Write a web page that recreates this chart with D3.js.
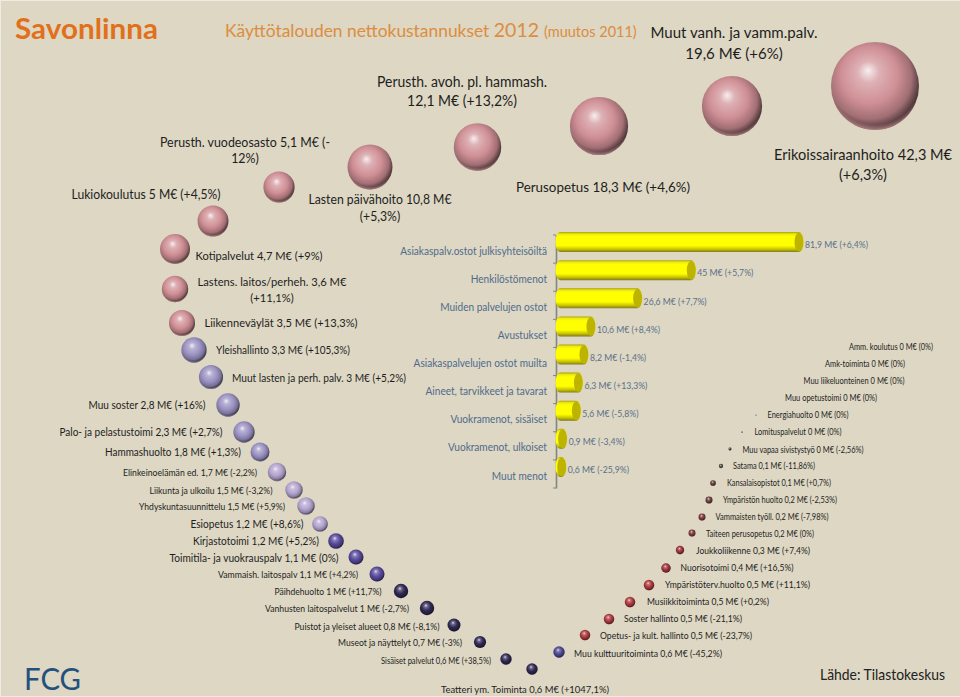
<!DOCTYPE html>
<html><head><meta charset="utf-8">
<script src="https://cdn.jsdelivr.net/npm/d3@7"></script>
<style>html,body{margin:0;padding:0;background:#eeece2;overflow:hidden}svg{display:block}text{font-family:Lato,"Open Sans",sans-serif}</style>
</head><body><div id="c"></div>
<script>
// ---------- bar data ----------
const barCategories = ["Asiakaspalv.ostot julkisyhteisöiltä","Henkilöstömenot","Muiden palvelujen ostot","Avustukset","Asiakaspalvelujen ostot muilta","Aineet, tarvikkeet ja tavarat","Vuokramenot, sisäiset","Vuokramenot, ulkoiset","Muut menot"];
const barValues = [81.9,45,26.6,10.6,8.2,6.3,5.6,0.9,0.6];
const barLabels = ["81,9 M€ (+6,4%)","45 M€ (+5,7%)","26,6 M€ (+7,7%)","10,6 M€ (+8,4%)","8,2 M€ (-1,4%)","6,3 M€ (+13,3%)","5,6 M€ (-5,8%)","0,9 M€ (-3,4%)","0,6 M€ (-25,9%)"];
// ---------- bubble data (x, y in chart units, y upwards) ----------
const bubbleNames = ["Erikoissairaanhoito 42,3 M€\n(+6,3%)","Muut vanh. ja vamm.palv.\n19,6 M€ (+6%)","Perusopetus 18,3 M€ (+4,6%)","Perusth. avoh. pl. hammash.\n12,1 M€ (+13,2%)","Lasten päivähoito 10,8 M€\n(+5,3%)","Perusth. vuodeosasto 5,1 M€ (-\n12%)","Lukiokoulutus 5 M€ (+4,5%)","Kotipalvelut 4,7 M€ (+9%)","Lastens. laitos/perheh. 3,6 M€\n(+11,1%)","Liikenneväylät 3,5 M€ (+13,3%)","Yleishallinto 3,3 M€ (+105,3%)","Muut lasten ja perh. palv. 3 M€ (+5,2%)","Muu soster 2,8 M€ (+16%)","Palo- ja pelastustoimi 2,3 M€ (+2,7%)","Hammashuolto 1,8 M€ (+1,3%)","Elinkeinoelämän  ed. 1,7 M€ (-2,2%)","Liikunta ja ulkoilu 1,5 M€ (-3,2%)","Yhdyskuntasuunnittelu 1,5 M€ (+5,9%)","Esiopetus 1,2 M€ (+8,6%)","Kirjastotoimi 1,2 M€ (+5,2%)","Toimitila- ja vuokrauspalv 1,1 M€ (0%)","Vammaish. laitospalv 1,1 M€ (+4,2%)","Päihdehuolto 1 M€ (+11,7%)","Vanhusten laitospalvelut 1 M€ (-2,7%)","Puistot ja yleiset alueet 0,8 M€ (-8,1%)","Museot ja näyttelyt 0,7 M€ (-3%)","Sisäiset palvelut 0,6 M€ (+38,5%)","Teatteri  ym. Toiminta 0,6 M€ (+1047,1%)","Muu kulttuuritoiminta 0,6 M€ (-45,2%)","Opetus- ja kult. hallinto 0,5 M€ (-23,7%)","Soster hallinto 0,5 M€ (-21,1%)","Musiikkitoiminta 0,5 M€ (+0,2%)","Ympäristöterv.huolto 0,5 M€ (+11,1%)","Nuorisotoimi 0,4 M€ (+16,5%)","Joukkoliikenne 0,3 M€ (+7,4%)","Taiteen perusopetus 0,2 M€ (0%)","Vammaisten työll. 0,2 M€ (-7,98%)","Ympäristön huolto 0,2 M€ (-2,53%)","Kansalaisopistot 0,1 M€ (+0,7%)","Satama 0,1 M€ (-11,86%)","Muu vapaa sivistystyö 0 M€ (-2,56%)","Lomituspalvelut 0 M€ (0%)","Energiahuolto 0 M€ (0%)","Muu opetustoimi 0 M€ (0%)","Muu liikeluonteinen 0 M€ (0%)","Amk-toiminta 0 M€ (0%)","Amm. koulutus 0 M€ (0%)"];
const bubbleValues = [42.3,19.6,18.3,12.1,10.8,5.1,5,4.7,3.6,3.5,3.3,3,2.8,2.3,1.8,1.7,1.5,1.5,1.2,1.2,1.1,1.1,1,1,0.8,0.7,0.6,0.6,0.6,0.5,0.5,0.5,0.5,0.4,0.3,0.2,0.2,0.2,0.12,0.06,0.02,0.005,0.001,0,0,0,0];
const bubbleX = [87.5,73.2,59.9,47.75,37,27.9,21.3,17.5,17.5,18.2,19.4,21.1,22.8,24.4,26,27.7,29.4,30.6,32,33.6,35.6,37.7,40.1,42.7,45.4,48,50.6,53.2,55.9,58.5,60.9,63,64.9,66.6,68,69.2,70.2,70.9,71.3,72.1,73,74.2,75.6,77.4,79.5,81.5,84];
const bubbleY = [61.1,59.1,57.1,55,53,51,47.6,44.8,40.8,37.4,34.7,32,29.2,26.5,24.5,22.5,20.7,19.1,17.3,15.6,14,12.3,10.6,8.9,7.2,5.5,3.8,2.8,4.5,6.2,7.8,9.5,11.2,12.9,14.7,16.4,18,19.7,21.4,23.1,24.8,26.5,28.2,29.9,31.6,33.3,35];
const sphereGroup = [0,0,0,0,0,0,0,0,0,0,1,1,1,1,1,2,2,2,2,3,3,3,4,4,4,4,4,4,5,6,6,6,6,7,7,8,8,9,10,11,12,13,14,14,14,14,14];
const groupColors = ["#cf8f95","#9b92c2","#b3a4cf","#57489a","#2f2852","#4d4791","#ab3a3e","#9c3338","#7f3a3d","#693f3f","#5a3f36","#4a4a40","#3a3a3a","#8f8f86","#bdb9a8"];

// ---------- layout of the free-standing texts ----------
const labelX = [863,734,603,462,380,245,146,259,272,281,283,319,147,141,173,190,211,212,247,256,254,288,328,337,367,400,436,525,648,676,683,708,737.5,737,753,760,772,780,779,774,803,798,808,831,854,865,891];
const labelY = [155,33,187,82,200,142,194,256,282,323,350,378,405,432,452,473,491,507,524,541,558,575,592,609,627,643,661,690,654,636,619,602,585,568,551,534,517,500,483,466,450,432,415,398,381,364,347];
const labelSize = [15.3,15.5,14,14.5,12.8,12.9,12.9,12,12,12,11,11,11,11,11,9.5,9.5,9.5,11,11,11,9.5,9.5,9.5,9.5,9.5,8.5,9.8,9.5,9.5,9.5,9.5,9.5,9.5,9.5,8.5,8.5,8.5,8.5,8.8,8.5,8.5,8.5,8.5,8.5,8.5,8.5];
const labelWidth = [178,167,174,170,143,170,149,127,149,153,134,174,117,163,136,134,123,146,113,126,169,140,107,144,145,124,110,168,148,152,118,122,145,113,114,108,113,114,104,82,121,87,81,92,101,80,84];
const squeezeBar = 0.93, squeezeAxis = 0.87;

const W=960,H=697;
const svg=d3.select("#c").append("svg").attr("width",W).attr("height",H);
const defs=svg.append("defs");
svg.append("rect").attr("x",1).attr("y",1).attr("width",W).attr("height",H-2).attr("fill","#ddd7c3");
function fit(sel,w){ sel.each(function(){ d3.select(this).attr("textLength",w).attr("lengthAdjust","spacingAndGlyphs"); }); return sel; }

// header
fit(svg.append("text").attr("x",15).attr("y",39).attr("font-size",29).attr("font-weight",700).attr("fill","#e2701a").text("Savonlinna"),143);
const t=svg.append("text").attr("x",225).attr("y",37).attr("fill","#dc8d3f");
t.append("tspan").attr("font-size",17.4).text("Käyttötalouden nettokustannukset ");
t.append("tspan").attr("font-size",19.5).text("2012 ");
t.append("tspan").attr("font-size",14.5).text("(muutos 2011)");

// bubbles
const px=d3.scaleLinear().domain([0,96]).range([0,W]);
const py=d3.scaleLinear().domain([0,69.7]).range([H,0]);
const pr=d3.scaleSqrt().domain([0,42.3]).range([0.5,44]);
groupColors.forEach((c,i)=>{
  const b=d3.color(c), g=defs.append("radialGradient").attr("id","s"+i).attr("cx",.45).attr("cy",.43).attr("r",.62).attr("fx",.42).attr("fy",.32);
  [[0,d3.interpolateRgb(c,"#fff")(.85)],[.2,d3.interpolateRgb(c,"#fff")(.3)],[.52,c],[.76,b.darker(.7)],[.92,b.darker(2.8)],[1,b.darker(3.4)]].forEach(s=>g.append("stop").attr("offset",s[0]).attr("stop-color",s[1]));
  const rim=defs.append("radialGradient").attr("id","r"+i).attr("cx",.5).attr("cy",.42).attr("r",.6);
  rim.append("stop").attr("offset",.86).attr("stop-color",c).attr("stop-opacity",0);
  rim.append("stop").attr("offset",1).attr("stop-color",d3.interpolateRgb(c,"#fff")(.2)).attr("stop-opacity",.95);
});
const bubbles=bubbleNames.map((n,i)=>({v:bubbleValues[i],x:bubbleX[i],y:bubbleY[i],g:sphereGroup[i]})).filter(d=>d.v>0);
const bs=svg.append("g").selectAll("g").data(bubbles).join("g");
bs.append("circle").attr("cx",d=>px(d.x)).attr("cy",d=>py(d.y)).attr("r",d=>pr(d.v)).attr("fill",d=>`url(#s${d.g})`);
bs.append("circle").attr("cx",d=>px(d.x)).attr("cy",d=>py(d.y)).attr("r",d=>pr(d.v)).attr("fill",d=>`url(#r${d.g})`);

// bubble labels
const lab=svg.append("g").attr("fill","#1e1e1e").attr("text-anchor","middle").selectAll("text").data(bubbleNames).join("text")
  .attr("font-size",(d,i)=>labelSize[i]);
lab.each(function(d,i){
  const el=d3.select(this), size=labelSize[i];
  let ratio=1;
  d.split("\n").forEach((line,k)=>{
    const ts=el.append("tspan").attr("x",labelX[i]).attr("y",labelY[i]+k*size*1.3).attr("dy",".35em").text(line);
    const natural=ts.node().getComputedTextLength();
    if(k===0) ratio=labelWidth[i]/natural;
    ts.attr("textLength",natural*ratio).attr("lengthAdjust","spacingAndGlyphs");
  });
});

// bar chart
const y=d3.scaleBand().domain(barCategories).range([235,488]);
const x=d3.scaleLinear().domain([0,81.9]).range([560,799]);
const bg=defs.append("linearGradient").attr("id","bar").attr("x1",0).attr("x2",0).attr("y1",0).attr("y2",1);
[[0,"#a8a400"],[.1,"#eeea10"],[.22,"#ffff00"],[.68,"#ffff00"],[.86,"#c8c200"],[1,"#7d7a20"]].forEach(s=>bg.append("stop").attr("offset",s[0]).attr("stop-color",s[1]));
const axis=d3.axisLeft(y).tickSize(0).tickPadding(9);
const ax=svg.append("g").attr("transform","translate(556,0)").call(axis);
ax.select(".domain").attr("stroke","#85857f").attr("stroke-width",1.6);
ax.selectAll("text").attr("font-size",11.6).attr("fill","#4f6b8c").attr("dy",".48em").style("font-family","Lato")
  .each(function(){ const n=this.getComputedTextLength(); d3.select(this).attr("textLength",n*squeezeAxis).attr("lengthAdjust","spacingAndGlyphs"); });
ax.selectAll(".edge").data([...barCategories.map(c=>y(c)),y.range()[1]]).join("line").attr("class","edge")
  .attr("x1",-3).attr("x2",0).attr("y1",d=>d).attr("y2",d=>d).attr("stroke","#85857f").attr("stroke-width",1);
const barH=20, cap=4.5;
const bars=svg.append("g").selectAll("g").data(barCategories).join("g").attr("transform",c=>`translate(0,${y(c)+y.bandwidth()/2-7})`);
bars.append("path").attr("fill","url(#bar)").attr("d",(c,i)=>{
  const x0=x(0),x1=x(barValues[i]),h=barH/2;
  return `M${x0},${-h}L${x1},${-h}A${cap},${h} 0 0 1 ${x1},${h}L${x0},${h}A${cap},${h} 0 0 1 ${x0},${-h}Z`;
});
bars.append("ellipse").attr("cx",(c,i)=>x(barValues[i])).attr("rx",cap).attr("ry",barH/2-.5).attr("fill","#bdb400");
bars.append("text").attr("x",(c,i)=>x(barValues[i])+6).attr("y",3).attr("dy",".35em").attr("font-size",9.3).attr("fill","#5b7089").text((c,i)=>barLabels[i])
  .each(function(){ const n=this.getComputedTextLength(); d3.select(this).attr("textLength",n*squeezeBar).attr("lengthAdjust","spacingAndGlyphs"); });

// footer
fit(svg.append("text").attr("x",24).attr("y",690).attr("font-size",31).attr("fill","#24507e").text("FCG"),57);
fit(svg.append("text").attr("x",820).attr("y",680).attr("font-size",15).attr("fill","#222").text("Lähde: Tilastokeskus"),125);
</script></body></html>
